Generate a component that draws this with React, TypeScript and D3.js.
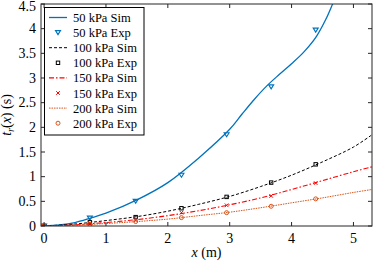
import * as d3 from 'd3';
import React from 'react';

// experimental sample positions (m)
const xExp = [0, 0.74, 1.48, 2.22, 2.95, 3.67, 4.39];
const exp50 = [0, 0.16, 0.5, 1.03, 1.85, 2.82, 3.97];
const exp100 = [0, 0.075, 0.18, 0.36, 0.59, 0.88, 1.25];
const exp150 = [0, 0.05, 0.12, 0.27, 0.42, 0.61, 0.87];
const exp200 = [0, 0.035, 0.09, 0.17, 0.27, 0.4, 0.55];

// simulated curves
const xSim50 = [0, 0.25, 0.5, 0.75, 1, 1.5, 2, 2.5, 3, 3.2, 3.4, 3.6, 3.8, 4, 4.2, 4.4, 4.55, 4.67, 4.8];
const sim50 = [0, 0.02, 0.07, 0.16, 0.26, 0.53, 0.88, 1.38, 1.96, 2.27, 2.57, 2.84, 3.07, 3.29, 3.53, 3.84, 4.18, 4.52, 4.9];
const xSim = [0, 0.5, 1, 1.5, 2, 2.5, 3, 3.5, 4, 4.5, 5, 5.3];
const sim100 = [0, 0.04, 0.11, 0.19, 0.3, 0.44, 0.6, 0.8, 1.03, 1.3, 1.6, 1.85];
const sim150 = [0, 0.025, 0.07, 0.13, 0.21, 0.31, 0.43, 0.57, 0.74, 0.92, 1.1, 1.2];
const sim200 = [0, 0.018, 0.05, 0.09, 0.14, 0.21, 0.28, 0.37, 0.47, 0.57, 0.68, 0.74];

const xTicks = [0, 1, 2, 3, 4, 5];
const yTicks = [0, 0.5, 1, 1.5, 2, 2.5, 3, 3.5, 4, 4.5];

const W = 374;
const H = 261;
const M = { left: 41, right: 2, top: 4, bottom: 35 };
const TXT = { fontFamily: 'Liberation Serif' };

const BLUE = '#0072BD';
const RED = '#FF0000';
const ORANGE = '#D95319';

type Marker = 'tri' | 'square' | 'x' | 'circle';

function MarkerShape({ kind, x, y, color }: { kind: Marker; x: number; y: number; color: string }) {
    if (kind === 'tri') {
        return <path d={`M${x - 2.5},${y - 2}L${x + 2.5},${y - 2}L${x},${y + 2}Z`} fill="none" stroke={color} strokeWidth={1.1} />;
    }
    if (kind === 'square') {
        return <rect x={x - 1.7} y={y - 1.7} width={3.4} height={3.4} fill="none" stroke={color} strokeWidth={1} />;
    }
    if (kind === 'x') {
        return <path d={`M${x - 1.8},${y - 1.8}L${x + 1.8},${y + 1.8}M${x - 1.8},${y + 1.8}L${x + 1.8},${y - 1.8}`} stroke={color} strokeWidth={1} />;
    }
    return <circle cx={x} cy={y} r={2} fill="none" stroke={color} strokeWidth={1} />;
}

export default function App() {
    const x = d3.scaleLinear().domain([-0.05, 5.3]).range([M.left, W - M.right]);
    const y = d3.scaleLinear().domain([0, 4.5]).range([H - M.bottom, M.top]);

    const line = d3
        .line<[number, number]>()
        .x((d) => x(d[0]))
        .y((d) => y(d[1]))
        .curve(d3.curveCatmullRom.alpha(0.5));

    const sims = [
        { label: '50 kPa Sim', xs: xSim50, ys: sim50, color: BLUE, dash: undefined, width: 1.3 },
        { label: '100 kPa Sim', xs: xSim, ys: sim100, color: '#000', dash: '3 2', width: 1 },
        { label: '150 kPa Sim', xs: xSim, ys: sim150, color: RED, dash: '5 2 1.5 2', width: 1.1 },
        { label: '200 kPa Sim', xs: xSim, ys: sim200, color: ORANGE, dash: '1.5 1', width: 1 },
    ];
    const exps: { label: string; ys: number[]; color: string; kind: Marker }[] = [
        { label: '50 kPa Exp', ys: exp50, color: BLUE, kind: 'tri' },
        { label: '100 kPa Exp', ys: exp100, color: '#000', kind: 'square' },
        { label: '150 kPa Exp', ys: exp150, color: RED, kind: 'x' },
        { label: '200 kPa Exp', ys: exp200, color: ORANGE, kind: 'circle' },
    ];

    const x0 = M.left;
    const x1 = W - M.right;
    const y0 = H - M.bottom;
    const y1 = M.top;

    const legendRows = [0, 1, 2, 3].flatMap((i) => [
        { type: 'sim' as const, i },
        { type: 'exp' as const, i },
    ]);

    return (
        <svg width={W} height={H} style={{ position: 'absolute', left: 0, top: 0, background: '#fff' }}>
            <defs>
                <clipPath id="plot">
                    <rect x={x0} y={y1} width={x1 - x0} height={y0 - y1} />
                </clipPath>
            </defs>

            <g clipPath="url(#plot)">
                {sims.map((s) => (
                    <path
                        key={s.label}
                        d={line(s.xs.map((v, i) => [v, s.ys[i]] as [number, number])) ?? ''}
                        fill="none"
                        stroke={s.color}
                        strokeWidth={s.width}
                        strokeDasharray={s.dash}
                    />
                ))}
                {exps.map((e) =>
                    e.ys.map((v, i) => (
                        <MarkerShape key={`${e.label}-${i}`} kind={e.kind} x={x(xExp[i])} y={y(v)} color={e.color} />
                    ))
                )}
            </g>

            {/* box */}
            <rect x={x0} y={y1} width={x1 - x0} height={y0 - y1} fill="none" stroke="#262626" strokeWidth={1} />

            {xTicks.map((t) => (
                <g key={`xt${t}`}>
                    <line x1={x(t)} x2={x(t)} y1={y0} y2={y0 - 4} stroke="#262626" />
                    <line x1={x(t)} x2={x(t)} y1={y1} y2={y1 + 4} stroke="#262626" />
                    <text x={x(t)} y={y0 + 17} textAnchor="middle" fontSize={14} fill="#000" style={TXT}>
                        {t}
                    </text>
                </g>
            ))}
            {yTicks.map((t) => (
                <g key={`yt${t}`}>
                    <line x1={x0} x2={x0 + 4} y1={y(t)} y2={y(t)} stroke="#262626" />
                    <line x1={x1} x2={x1 - 4} y1={y(t)} y2={y(t)} stroke="#262626" />
                    <text x={x0 - 5} y={Math.max(y(t) + 4.5, 10.5)} textAnchor="end" fontSize={14} fill="#000" style={TXT}>
                        {t}
                    </text>
                </g>
            ))}

            <text x={(x0 + x1) / 2} y={H - 4} textAnchor="middle" fontSize={14} fill="#000" style={TXT}>
                <tspan fontStyle="italic">x</tspan> (m)
            </text>
            <text transform={`translate(11,${(y0 + y1) / 2}) rotate(-90)`} textAnchor="middle" fontSize={14} fill="#000" style={TXT}>
                <tspan fontStyle="italic">t</tspan>
                <tspan fontStyle="italic" fontSize={10} dy={3}>r</tspan>
                <tspan dy={-3}>(</tspan>
                <tspan fontStyle="italic">x</tspan>) (s)
            </text>

            {/* legend */}
            <g>
                <rect x={44.5} y={7.5} width={99.5} height={127.5} fill="#fff" stroke="#000" strokeWidth={1} />
                {legendRows.map((r, k) => {
                    const cy = 17.5 + k * 15.1;
                    if (r.type === 'sim') {
                        const s = sims[r.i];
                        return (
                            <g key={`ls${k}`}>
                                <line x1={49} x2={67} y1={cy} y2={cy} stroke={s.color} strokeWidth={s.width} strokeDasharray={s.dash} />
                                <text x={73} y={cy + 4.5} fontSize={12.5} fill="#000" style={TXT}>{s.label}</text>
                            </g>
                        );
                    }
                    const e = exps[r.i];
                    return (
                        <g key={`le${k}`}>
                            <MarkerShape kind={e.kind} x={58} y={cy} color={e.color} />
                            <text x={73} y={cy + 4.5} fontSize={12.5} fill="#000" style={TXT}>{e.label}</text>
                        </g>
                    );
                })}
            </g>
        </svg>
    );
}
